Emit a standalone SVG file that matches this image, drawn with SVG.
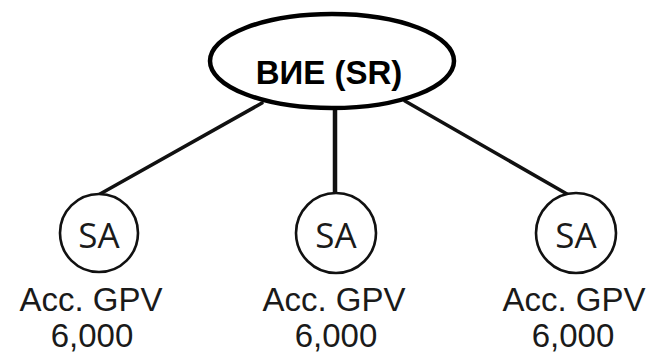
<svg xmlns="http://www.w3.org/2000/svg" width="657" height="354" viewBox="0 0 657 354">
<style>
.edge{stroke:#111;stroke-width:3.5;fill:none;stroke-linecap:round}
.sa{fill:#fff;stroke:#111;stroke-width:2.6}
.sat{font-family:"Open Sans","Noto Sans",sans-serif;font-size:35px;fill:#1a1a1a;text-anchor:middle}
.lbl{font-family:"Liberation Sans",Arial,sans-serif;font-size:33px;fill:#1a1a1a;text-anchor:middle}
.root{font-family:"Liberation Sans",Arial,sans-serif;font-size:33px;font-weight:bold;fill:#000;text-anchor:middle}
</style>
<rect width="657" height="354" fill="#fff"/>
<g id="connectors">
<line class="edge" x1="262" y1="103" x2="100" y2="194"/>
<line class="edge" x1="335" y1="104" x2="335" y2="194" style="stroke-width:4.5"/>
<line class="edge" x1="405" y1="101" x2="567" y2="194"/>
</g>
<g id="root">
<ellipse cx="332" cy="61" rx="122" ry="47" fill="#fff" stroke="#000" stroke-width="4.5"/>
<text class="root" x="329" y="84">ВИЕ (SR)</text>
</g>
<g id="sa1">
<circle class="sa" cx="99" cy="233" r="39"/>
<text class="sat" x="99" y="248">SA</text>
<text class="lbl" x="91" y="311">Acc. GPV</text>
<text class="lbl" x="92" y="347">6,000</text>
</g>
<g id="sa2">
<circle class="sa" cx="336" cy="233" r="40"/>
<text class="sat" x="336" y="248">SA</text>
<text class="lbl" x="334" y="311">Acc. GPV</text>
<text class="lbl" x="336" y="347">6,000</text>
</g>
<g id="sa3">
<circle class="sa" cx="576" cy="233" r="40"/>
<text class="sat" x="576" y="248">SA</text>
<text class="lbl" x="574" y="311">Acc. GPV</text>
<text class="lbl" x="573" y="347">6,000</text>
</g>
</svg>
